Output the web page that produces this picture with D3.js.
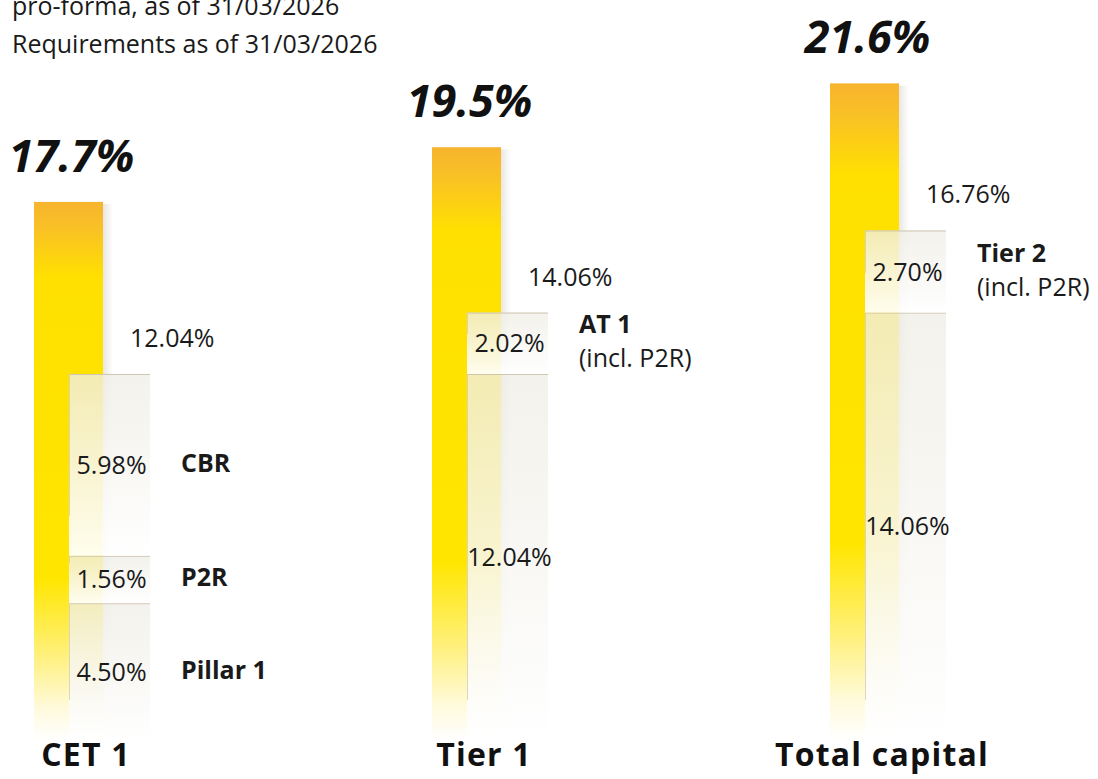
<!DOCTYPE html>
<html><head><meta charset="utf-8">
<script src="https://cdn.jsdelivr.net/npm/d3@7"></script>
<style>
html,body{margin:0;padding:0;background:#fff;}
svg{display:block;font-family:"Open Sans",sans-serif;}
</style></head><body>
<svg id="chart" width="1098" height="779"></svg>
<script>
// ---- data ----
const headerLines = ["pro-forma, as of 31/03/2026", "Requirements as of 31/03/2026"];
const categories = ["CET 1", "Tier 1", "Total capital"];
const ratios = [17.7, 19.5, 21.6];
const requirements = [12.04, 14.06, 16.76];
// requirement segments, bottom to top
const cet1Segments = [4.50, 1.56, 5.98];
const cet1SegmentNames = ["Pillar 1", "P2R", "CBR"];
const cet1SegmentNotes = ["", "", ""];
const tier1Segments = [12.04, 2.02];
const tier1SegmentNames = ["", "AT 1"];
const tier1SegmentNotes = ["", "(incl. P2R)"];
const totalSegments = [14.06, 2.70];
const totalSegmentNames = ["", "Tier 2"];
const totalSegmentNotes = ["", "(incl. P2R)"];

const segValues = [cet1Segments, tier1Segments, totalSegments];
const segNames = [cet1SegmentNames, tier1SegmentNames, totalSegmentNames];
const segNotes = [cet1SegmentNotes, tier1SegmentNotes, totalSegmentNotes];

const fmt1 = d3.format(".1f"), fmt2 = d3.format(".2f");

// ---- layout ----
const svg = d3.select("#chart");
const baseY = 740, pxPerPct = 30.4;
const x = d3.scaleBand().domain(categories).range([34, 34 + 398 * 3]).padding(0);
const y = d3.scaleLinear().domain([0, 22]).range([baseY, baseY - 22 * pxPerPct]);
const barW = 69, boxOff = 35, boxW = 81;

const defs = svg.append("defs");
const bg = defs.append("linearGradient").attr("id", "barGrad").attr("x1", 0).attr("y1", 0).attr("x2", 0).attr("y2", 1);
[[0, "#F7B42E"], [0.05, "#F9C125"], [0.14, "#FFE000"], [0.7, "#FFE600"], [0.84, "#FFF07A"], [0.94, "#FFFADB"], [1, "#FFFFFF"]]
  .forEach(s => bg.append("stop").attr("offset", s[0]).attr("stop-color", s[1]));

const boxG = defs.append("linearGradient").attr("id", "boxGrad").attr("x1", 0).attr("y1", 0).attr("x2", 0).attr("y2", 1);
boxG.append("stop").attr("offset", 0).attr("stop-color", "rgb(240,238,230)").attr("stop-opacity", 0.78);
boxG.append("stop").attr("offset", 1).attr("stop-color", "#FFFFFF").attr("stop-opacity", 0.93);

const shH = defs.append("linearGradient").attr("id", "shadowGrad").attr("x1", 0).attr("y1", 0).attr("x2", 1).attr("y2", 0);
shH.append("stop").attr("offset", 0).attr("stop-color", "rgb(120,105,80)").attr("stop-opacity", 0.16);
shH.append("stop").attr("offset", 1).attr("stop-color", "rgb(120,105,80)").attr("stop-opacity", 0);

const mg = defs.append("linearGradient").attr("id", "maskGrad").attr("x1", 0).attr("y1", 0).attr("x2", 0).attr("y2", 1);
mg.append("stop").attr("offset", 0).attr("stop-color", "#fff");
mg.append("stop").attr("offset", 0.6).attr("stop-color", "#fff");
mg.append("stop").attr("offset", 1).attr("stop-color", "#000");
const mask = defs.append("mask").attr("id", "shadowMask").attr("maskContentUnits", "objectBoundingBox");
mask.append("rect").attr("width", 1).attr("height", 1).attr("fill", "url(#maskGrad)");

// header
svg.append("g").selectAll("text").data(headerLines).join("text")
  .attr("x", 12).attr("y", (d, i) => 15 + i * 38)
  .attr("font-size", 25).attr("fill", "#1a1a1a").text(d => d);

// main bars
const groups = svg.append("g").selectAll("g").data(categories).join("g");

groups.append("rect")
  .attr("x", d => x(d) + barW).attr("y", (d, i) => y(ratios[i]) + 2)
  .attr("width", 10).attr("height", (d, i) => y(0) - y(ratios[i]) - 2)
  .attr("fill", "url(#shadowGrad)").attr("mask", "url(#shadowMask)");

groups.append("rect")
  .attr("x", d => x(d)).attr("y", (d, i) => y(ratios[i]))
  .attr("width", barW).attr("height", (d, i) => y(0) - y(ratios[i]))
  .attr("fill", "url(#barGrad)");

// requirement segments
groups.each(function(cat, i) {
  const g = d3.select(this);
  let cum = 0;
  const segs = segValues[i].map((v, j) => {
    const s = { v, lo: cum, hi: cum + v, name: segNames[i][j], note: segNotes[i][j] };
    cum += v; return s;
  });
  const bx = x(cat) + boxOff;
  segs.forEach(s => {
    const top = y(s.hi), bot = y(s.lo), mid = (top + bot) / 2;
    g.append("rect").attr("x", bx).attr("y", top).attr("width", boxW).attr("height", bot - top)
      .attr("fill", "url(#boxGrad)");
    g.append("line").attr("x1", bx).attr("x2", bx + boxW).attr("y1", top + 0.5).attr("y2", top + 0.5)
      .attr("stroke", "#CFC5B0").attr("stroke-width", 1);
    g.append("line").attr("x1", bx + 0.5).attr("x2", bx + 0.5).attr("y1", top).attr("y2", bot - 40)
      .attr("stroke", "#D6CDB2").attr("stroke-width", 1).attr("stroke-opacity", 0.8);
    g.append("text").attr("x", bx + boxW / 2 + 2).attr("y", mid + 9)
      .attr("text-anchor", "middle").attr("font-size", 25).attr("fill", "#1a1a1a")
      .text(fmt2(s.v) + "%");
    if (s.name) {
      g.append("text").attr("x", bx + boxW + 31).attr("y", s.note ? mid - 10 : mid + 7)
        .attr("font-size", 25).attr("font-weight", 700).attr("fill", "#1a1a1a").text(s.name);
    }
    if (s.note) {
      g.append("text").attr("x", bx + boxW + 31).attr("y", mid + 24)
        .attr("font-size", 25).attr("fill", "#1a1a1a").text(s.note);
    }
  });
  // requirement total label
  g.append("text").attr("x", x(cat) + 96).attr("y", y(requirements[i]) - 27)
    .attr("font-size", 25).attr("fill", "#1a1a1a").text(fmt2(requirements[i]) + "%");
  // ratio label
  g.append("text").attr("x", x(cat) + barW / 2 + 3).attr("y", y(ratios[i]) - 30)
    .attr("text-anchor", "middle").attr("font-size", 45).attr("font-weight", 700)
    .attr("font-style", "italic").attr("fill", "#111").text(fmt1(ratios[i]) + "%");
  // category label
  g.append("text").attr("x", x(cat) + 52).attr("y", 766)
    .attr("text-anchor", "middle").attr("font-size", 32).attr("font-weight", 700)
    .attr("letter-spacing", 1.2).attr("fill", "#111").text(cat);
});
</script>
</body></html>
